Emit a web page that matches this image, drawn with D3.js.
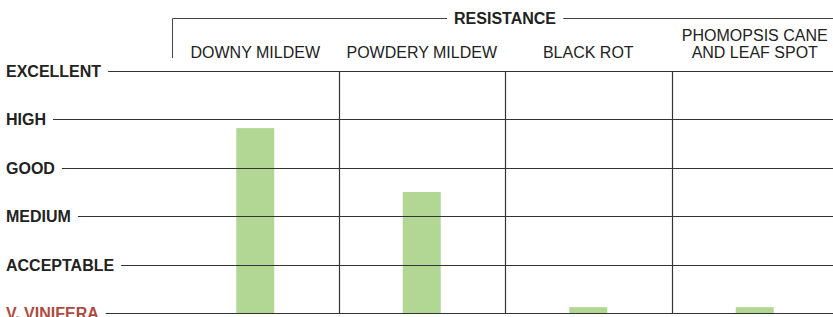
<!DOCTYPE html>
<html><head><meta charset="utf-8">
<script src="https://cdn.jsdelivr.net/npm/d3@7"></script>
<style>body{margin:0;background:#fff}svg{display:block}</style>
</head><body>
<svg id="chart" width="833" height="317"></svg>
<script>
const levels = ["V. VINIFERA", "ACCEPTABLE", "MEDIUM", "GOOD", "HIGH", "EXCELLENT"];
const categories = [["DOWNY MILDEW"], ["POWDERY MILDEW"], ["BLACK ROT"], ["PHOMOPSIS CANE", "AND LEAF SPOT"]];
const values = [3.82, 2.5, 0.12, 0.12];
const groupTitle = "RESISTANCE";

const svg = d3.select("#chart");
const W = 833, H = 317;
const y = d3.scaleLinear().domain([0, 5]).range([313, 71]);
const x = d3.scaleBand().domain(d3.range(categories.length)).range([172, 838]).paddingInner(0).paddingOuter(0);
const barW = 38;
const font = "'Liberation Sans', Arial, Helvetica, sans-serif";

// vertical separators
svg.append("g").selectAll("line").data(d3.range(1, categories.length)).join("line")
  .attr("x1", d => Math.round(x(d)) + 0.5).attr("x2", d => Math.round(x(d)) + 0.5)
  .attr("y1", y(5)).attr("y2", y(0))
  .attr("stroke", "#333").attr("stroke-width", 1.2);

// bars
svg.append("g").selectAll("rect").data(values).join("rect")
  .attr("x", (d, i) => x(i) + x.bandwidth() / 2 - barW / 2)
  .attr("width", barW)
  .attr("y", d => y(d))
  .attr("height", d => y(0) - y(d))
  .attr("fill", "#b2d795");

// level labels + grid lines
const lg = svg.append("g");
levels.forEach((lab, i) => {
  const yy = Math.round(y(i)) + 0.5;
  const t = lg.append("text").attr("x", 6).attr("y", yy).attr("dy", "0.36em")
    .attr("font-family", font).attr("font-size", 16).attr("font-weight", 700)
    .attr("fill", i === 0 ? "#b04a3e" : "#222").text(lab);
  const tw = t.node().getComputedTextLength();
  lg.append("line").attr("x1", 6 + tw + 7).attr("x2", W).attr("y1", yy).attr("y2", yy)
    .attr("stroke", "#333").attr("stroke-width", 1.2);
});

// category headers
const hg = svg.append("g");
categories.forEach((lines, i) => {
  const cx = x(i) + x.bandwidth() / 2;
  const n = lines.length;
  lines.forEach((ln, j) => {
    hg.append("text").attr("x", cx).attr("y", 58 - (n - 1 - j) * 17)
      .attr("text-anchor", "middle").attr("font-family", font).attr("font-size", 16)
      .attr("font-weight", 400).attr("fill", "#222").text(ln);
  });
});

// group bracket
const gt = svg.append("text").attr("x", 505).attr("y", 18).attr("dy", "0.36em")
  .attr("text-anchor", "middle").attr("font-family", font).attr("font-size", 16)
  .attr("font-weight", 700).attr("fill", "#222").text(groupTitle);
const bb = gt.node().getBBox();
svg.append("path")
  .attr("d", `M172.5,58V18.5H${bb.x - 7}M${bb.x + bb.width + 7},18.5H${W}`)
  .attr("fill", "none").attr("stroke", "#444").attr("stroke-width", 1);
</script>
</body></html>
